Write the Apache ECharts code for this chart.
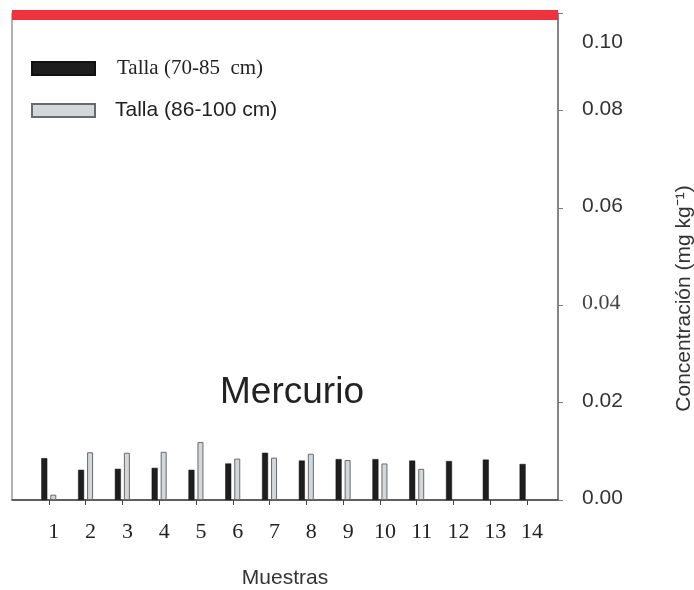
<!DOCTYPE html>
<html>
<head>
<meta charset="UTF-8">
<title>Mercurio</title>
<script src="https://cdn.jsdelivr.net/npm/echarts@6/dist/echarts.min.js"></script>
<style>
  html, body { margin: 0; padding: 0; background: #fff; }
</style>
</head>
<body>
	<div id="main" style="width: 694px; height: 590px;"></div>
	<script type="text/javascript">
        // muestras y concentraciones (mg/kg)
        var muestras = [1, 2, 3, 4, 5, 6, 7, 8, 9, 10, 11, 12, 13, 14];
        var talla1 = [0.0086, 0.0062, 0.0064, 0.0066, 0.0062, 0.0075, 0.0097, 0.0081, 0.0084, 0.0084, 0.0081, 0.0080, 0.0083, 0.0074];
        var talla2 = [0.0011, 0.0098, 0.0097, 0.0099, 0.0119, 0.0085, 0.0087, 0.0095, 0.0082, 0.0075, 0.0064, null, null, null];
        var nombres = ['Talla (70-85  cm)', 'Talla (86-100 cm)'];
        var yTicks = [0, 0.02, 0.04, 0.06, 0.08, 0.10];

        function pares(vals) {
            return muestras.map(function (m, i) { return [m, vals[i]]; });
        }

        var myChart = echarts.init(document.getElementById('main'));

        var option = {
            animation: false,
            grid: {
                left: 12, right: 136, top: 13, bottom: 90,
                outerBoundsMode: 'none',
                show: true, borderColor: '#666', borderWidth: 1
            },
            legend: {
                data: nombres,
                orient: 'vertical',
                left: 31, top: 58,
                padding: 0,
                icon: 'rect',
                itemWidth: 63, itemHeight: 13, itemGap: 21,
                formatter: function (name) {
                    return name === nombres[0] ? '{ser|' + name + '}' : '{san|' + name + '}';
                },
                textStyle: {
                    rich: {
                        ser: { fontFamily: 'Liberation Serif', fontSize: 21, color: '#222', lineHeight: 24, padding: [0, 0, 0, 17] },
                        san: { fontFamily: 'Liberation Sans', fontSize: 21, color: '#222', lineHeight: 24, padding: [0, 0, 0, 15] }
                    }
                }
            },
            graphic: [{
                type: 'text',
                x: 292, y: 393,
                style: {
                    text: 'Mercurio', fontFamily: 'Liberation Sans', fontSize: 37,
                    fill: '#222', align: 'center', verticalAlign: 'middle'
                }
            }],
            xAxis: [{
                type: 'value',
                min: 0, max: 14.84,
                interval: 1,
                splitLine: { show: false },
                axisLine: { onZero: false, lineStyle: { color: '#444', width: 1.5 } },
                axisTick: { customValues: muestras, length: 5, lineStyle: { color: '#444' } },
                axisLabel: {
                    customValues: muestras,
                    fontFamily: 'Liberation Serif', fontSize: 22, color: '#222',
                    margin: 21, padding: [0, 0, 0, 10]
                },
                name: 'Muestras',
                nameLocation: 'middle',
                nameGap: 68,
                nameTextStyle: { fontFamily: 'Liberation Sans', fontSize: 21, color: '#333' }
            }, {
                // franja roja superior
                type: 'value',
                position: 'top',
                min: 0, max: 14.84,
                offset: -2,
                splitLine: { show: false },
                axisTick: { show: false },
                axisLabel: { show: false },
                axisLine: { onZero: false, lineStyle: { color: '#ee323e', width: 10, cap: 'butt' } }
            }],
            yAxis: {
                type: 'value',
                position: 'right',
                min: 0, max: 0.1,
                interval: 0.02,
                splitLine: { show: false },
                axisLine: { show: true, onZero: false, lineStyle: { color: '#777', width: 1.5 } },
                axisTick: { show: true, length: 5, lineStyle: { color: '#777' } },
                axisLabel: {
                    customValues: yTicks,
                    margin: 24,
                    formatter: function (v) {
                        var s = v.toFixed(2);
                        if (Math.abs(v - 0.1) < 1e-9) return '{top|' + s + '}';
                        if (Math.abs(v - 0.04) < 1e-9) return '{ser|' + s + '}';
                        return '{n|' + s + '}';
                    },
                    rich: {
                        n: { fontFamily: 'Liberation Sans', fontSize: 21, color: '#333', padding: [0, 0, 3, 0] },
                        ser: { fontFamily: 'Liberation Serif', fontSize: 22, color: '#444', padding: [0, 0, 3, 0] },
                        top: { fontFamily: 'Liberation Sans', fontSize: 21, color: '#333', padding: [58, 0, 0, 0] }
                    }
                },
                name: 'Concentración (mg kg⁻¹)',
                nameLocation: 'middle',
                nameRotate: 90,
                nameGap: 116,
                nameTextStyle: { fontFamily: 'Liberation Sans', fontSize: 21, color: '#333', padding: [0, 84, 0, 0] }
            },
            series: [{
                name: nombres[0],
                type: 'bar',
                barWidth: 6,
                barGap: '50%',
                itemStyle: { color: '#1e1e1e', borderColor: '#111', borderWidth: 0.5 },
                data: pares(talla1)
            }, {
                name: nombres[1],
                type: 'bar',
                barWidth: 6,
                barGap: '50%',
                itemStyle: { color: '#d3d7d9', borderColor: '#6a6a6a', borderWidth: 1 },
                data: pares(talla2)
            }]
        };
        myChart.setOption(option);
    </script>
</body>
</html>
